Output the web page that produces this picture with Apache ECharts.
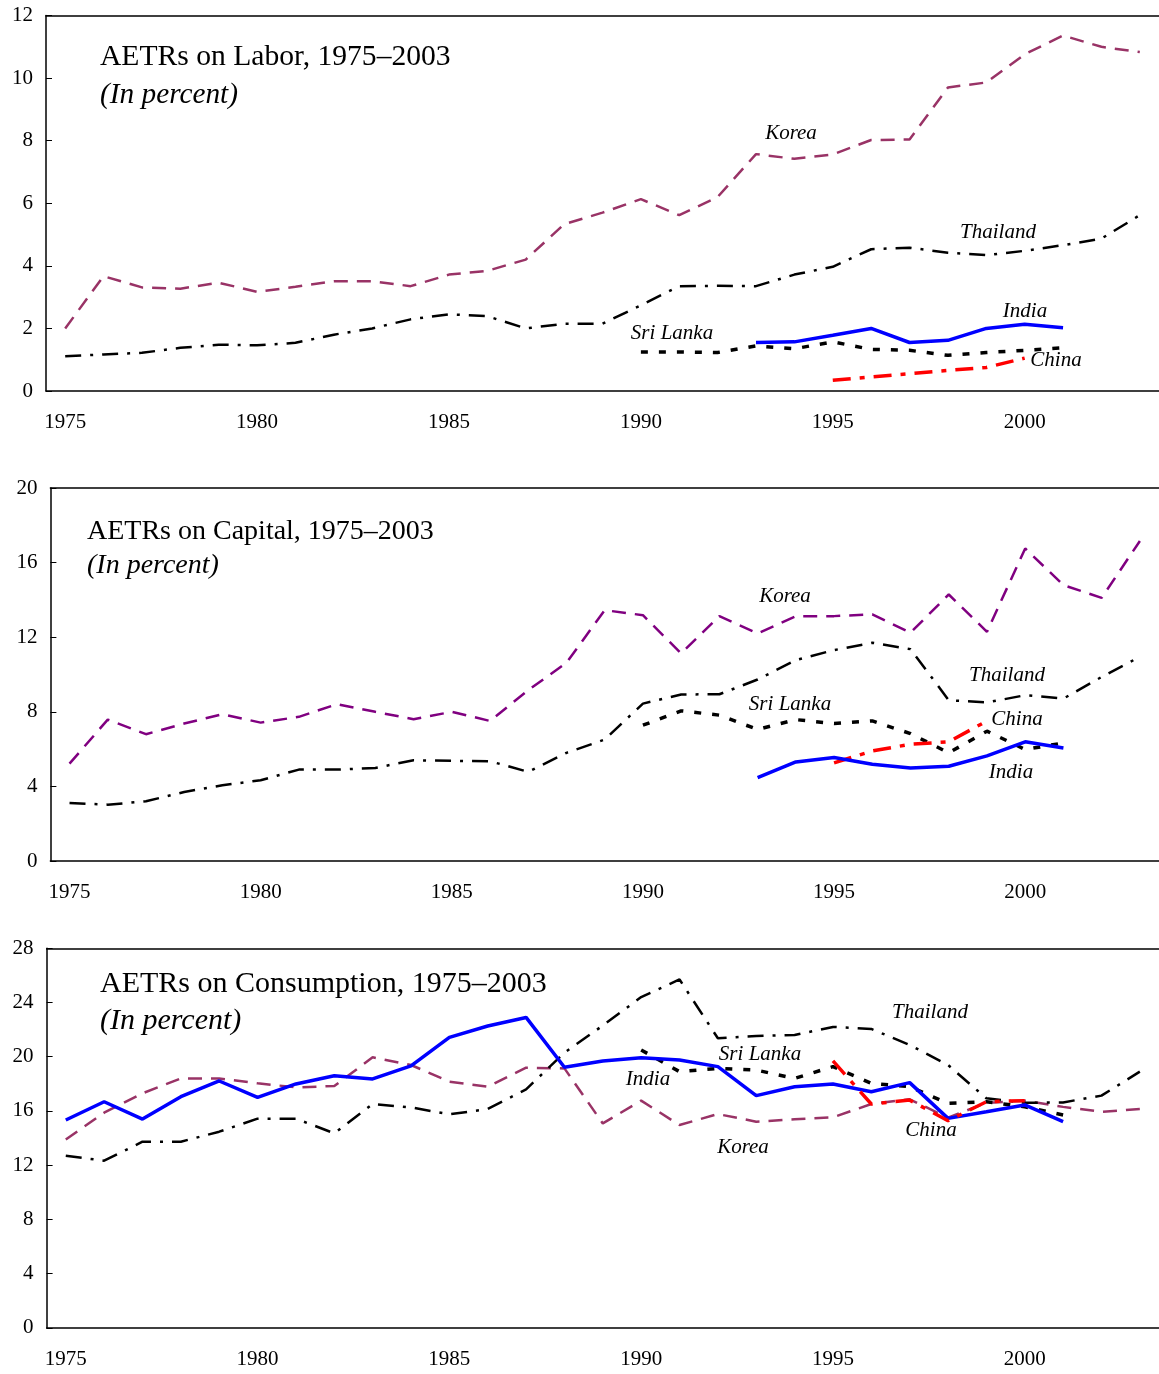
<!DOCTYPE html>
<html>
<head>
<meta charset="utf-8">
<script src="https://cdn.jsdelivr.net/npm/echarts@6/dist/echarts.min.js"></script>
<style>
  html, body { margin: 0; padding: 0; background: #fff; }
  #main { width: 1159px; height: 1374px; }
</style>
</head>
<body>
<div id="main"></div>
<script>
// years on the x axis
var years = [];
for (var y = 1975; y <= 2003; y++) years.push(String(y));

// Labor
var laborKorea = [2.0, 3.67, 3.31, 3.27, 3.46, 3.17, 3.33, 3.51, 3.51, 3.35, 3.72, 3.84, 4.2, 5.33, 5.7,
  6.13, 5.62, 6.2, 7.57, 7.42, 7.56, 8.02, 8.04, 9.7, 9.86, 10.76, 11.36, 11.0, 10.83];
var laborThailand = [1.11, 1.17, 1.22, 1.38, 1.48, 1.46, 1.54, 1.8, 2.0, 2.29, 2.45, 2.39, 2.0, 2.15, 2.15,
  2.74, 3.35, 3.36, 3.35, 3.72, 3.97, 4.53, 4.58, 4.42, 4.34, 4.48, 4.66, 4.87, 5.62];
var laborSriLanka = [null, null, null, null, null, null, null, null, null, null, null, null, null, null, null,
  1.25, 1.25, 1.23, 1.44, 1.35, 1.57, 1.33, 1.3, 1.14, 1.23, 1.3, 1.38, null, null];
var laborChina = [null, null, null, null, null, null, null, null, null, null, null, null, null, null, null,
  null, null, null, null, null, 0.34, 0.45, 0.55, 0.66, 0.75, 1.05, null, null, null];
var laborIndia = [null, null, null, null, null, null, null, null, null, null, null, null, null, null, null,
  null, null, null, 1.55, 1.57, 1.78, 2.0, 1.55, 1.62, 2.0, 2.13, 2.02, null, null];

// Capital
var capKorea = [5.22, 7.58, 6.8, 7.37, 7.87, 7.42, 7.73, 8.41, 8.0, 7.6, 8.0, 7.51, 9.16, 10.63, 13.45,
  13.18, 11.13, 13.13, 12.2, 13.13, 13.13, 13.22, 12.24, 14.29, 12.29, 16.76, 14.79, 14.11, 17.16];
var capThailand = [3.11, 3.02, 3.2, 3.7, 4.06, 4.33, 4.9, 4.9, 4.99, 5.4, 5.37, 5.35, 4.78, 5.8, 6.51,
  8.44, 8.93, 8.94, 9.73, 10.77, 11.31, 11.7, 11.36, 8.62, 8.5, 8.89, 8.71, 9.87, 10.95];
var capSriLanka = [null, null, null, null, null, null, null, null, null, null, null, null, null, null, null,
  7.28, 8.05, 7.82, 7.05, 7.58, 7.37, 7.51, 6.83, 5.8, 6.96, 5.98, 6.33, null, null];
var capChina = [null, null, null, null, null, null, null, null, null, null, null, null, null, null, null,
  null, null, null, null, null, 5.26, 5.9, 6.26, 6.39, 7.51, null, null, null, null];
var capIndia = [null, null, null, null, null, null, null, null, null, null, null, null, null, null, null,
  null, null, null, 4.47, 5.31, 5.55, 5.19, 4.99, 5.08, 5.64, 6.39, 6.06, null, null];

// Consumption
var conKorea = [13.9, 15.87, 17.3, 18.4, 18.4, 18.04, 17.74, 17.84, 19.96, 19.39, 18.16, 17.79, 19.19, 19.14, 15.08,
  16.76, 14.96, 15.77, 15.21, 15.38, 15.53, 16.51, 16.86, 15.5, 16.6, 16.76, 16.3, 15.94, 16.14];
var conThailand = [12.7, 12.33, 13.73, 13.73, 14.47, 15.43, 15.43, 14.35, 16.51, 16.26, 15.75, 16.14, 17.59, 20.3, 22.3,
  24.4, 25.7, 21.36, 21.53, 21.6, 22.2, 22.05, 20.87, 19.39, 16.93, 16.6, 16.63, 17.13, 18.9];
var conSriLanka = [null, null, null, null, null, null, null, null, null, null, null, null, null, null, null,
  20.5, 18.9, 19.14, 19.02, 18.4, 19.27, 18.04, 17.79, 16.56, 16.68, 16.31, 15.7, null, null];
var conChina = [null, null, null, null, null, null, null, null, null, null, null, null, null, null, null,
  null, null, null, null, null, 19.69, 16.51, 16.8, 15.28, 16.68, 16.76, null, null, null];
var conIndia = [15.33, 16.68, 15.4, 17.05, 18.21, 17.0, 17.99, 18.6, 18.36, 19.32, 21.43, 22.27, 22.9, 19.22, 19.69,
  19.93, 19.76, 19.27, 17.13, 17.79, 17.99, 17.42, 18.09, 15.45, 15.94, 16.44, 15.21, null, null];

var FONT = '"Liberation Serif", "Times New Roman", serif';

var grids = [
  { left: 46, top: 15.5, width: 1116.5, height: 375.5 },
  { left: 50.4, top: 488, width: 1112.7, height: 373 },
  { left: 46.6, top: 948.3, width: 1116.5, height: 379.5 }
];
var yMax = [12, 20, 28];
var yStep = [2, 4, 4];

function lineStyleFor(name, korColor) {
  if (name === 'Korea') return { color: korColor, width: 2.5, type: [14, 9] };
  if (name === 'Thailand') return { color: '#000', width: 2.5, type: [16, 9, 3, 9] };
  if (name === 'Sri Lanka') return { color: '#000', width: 3.5, type: [7, 11] };
  if (name === 'China') return { color: '#ff0000', width: 3.5, type: [18, 9, 5, 9] };
  return { color: '#0000ff', width: 3.5, type: 'solid' };
}

var panels = [
  { names: ['Korea', 'Thailand', 'Sri Lanka', 'China', 'India'],
    data: [laborKorea, laborThailand, laborSriLanka, laborChina, laborIndia], kor: '#993366' },
  { names: ['Korea', 'Thailand', 'Sri Lanka', 'China', 'India'],
    data: [capKorea, capThailand, capSriLanka, capChina, capIndia], kor: '#800080' },
  { names: ['Korea', 'Thailand', 'Sri Lanka', 'India', 'China'],
    data: [conKorea, conThailand, conSriLanka, conIndia, conChina], kor: '#993366' }
];

var xAxes = [], yAxes = [], series = [];
grids.forEach(function (g, i) {
  g.show = false;
  g.containLabel = false;
  xAxes.push({
    type: 'category', gridIndex: i, data: years, boundaryGap: true,
    axisLine: { lineStyle: { color: '#000', width: 1.5 } },
    axisTick: { inside: true, length: 6, interval: 0, lineStyle: { color: '#000', width: 1 } },
    axisLabel: { interval: 4, color: '#000', fontFamily: FONT, fontSize: 21, margin: 21 },
    splitLine: { show: false }
  });
  // top frame line of each panel
  xAxes.push({
    type: 'category', gridIndex: i, data: years, position: 'top',
    axisLine: { show: true, lineStyle: { color: '#000', width: 1.5 } },
    axisTick: { show: false }, axisLabel: { show: false }, splitLine: { show: false }
  });
  yAxes.push({
    type: 'value', gridIndex: i, min: 0, max: yMax[i], interval: yStep[i],
    axisLine: { show: true, lineStyle: { color: '#000', width: 1.5 } },
    axisTick: { show: true, inside: true, length: 6, lineStyle: { color: '#000', width: 1 } },
    axisLabel: { color: '#000', fontFamily: FONT, fontSize: 21, margin: 13 },
    splitLine: { show: false }
  });
  panels[i].names.forEach(function (n, k) {
    series.push({
      name: n, type: 'line', xAxisIndex: i * 2, yAxisIndex: i,
      data: panels[i].data[k], symbol: 'none', connectNulls: false,
      lineStyle: lineStyleFor(n, panels[i].kor), silent: true, animation: false
    });
  });
});

function txt(x, y, s, size, italic) {
  return {
    type: 'text', x: x, y: y, silent: true,
    style: {
      text: s, fill: '#000', font: (italic ? 'italic ' : '') + size + 'px ' + FONT,
      textAlign: 'left', textVerticalAlign: 'middle'
    }
  };
}
function lab(x, y, s) {
  return {
    type: 'text', x: x, y: y, silent: true,
    style: {
      text: s, fill: '#000', font: 'italic 21px ' + FONT,
      textAlign: 'center', textVerticalAlign: 'middle'
    }
  };
}

var graphics = [
  txt(100, 57, 'AETRs on Labor, 1975–2003', 29.6, false),
  txt(100, 95, '(In percent)', 29.3, true),
  txt(87, 532, 'AETRs on Capital, 1975–2003', 28, false),
  txt(87, 566, '(In percent)', 28, true),
  txt(100, 984, 'AETRs on Consumption, 1975–2003', 30, false),
  txt(100, 1021, '(In percent)', 30, true),

  lab(791, 133, 'Korea'), lab(998, 232, 'Thailand'), lab(1025, 311, 'India'),
  lab(672, 333, 'Sri Lanka'), lab(1056, 360, 'China'),

  lab(785, 596, 'Korea'), lab(1007, 675, 'Thailand'), lab(790, 704, 'Sri Lanka'),
  lab(1017, 719, 'China'), lab(1011, 772, 'India'),

  lab(930, 1012, 'Thailand'), lab(760, 1054, 'Sri Lanka'), lab(648, 1079, 'India'),
  lab(931, 1130, 'China'), lab(743, 1147, 'Korea')
];

var chart = echarts.init(document.getElementById('main'), null, { renderer: 'canvas' });
chart.setOption({
  backgroundColor: '#fff',
  animation: false,
  grid: grids,
  xAxis: xAxes,
  yAxis: yAxes,
  series: series,
  graphic: graphics
});
</script>
</body>
</html>
